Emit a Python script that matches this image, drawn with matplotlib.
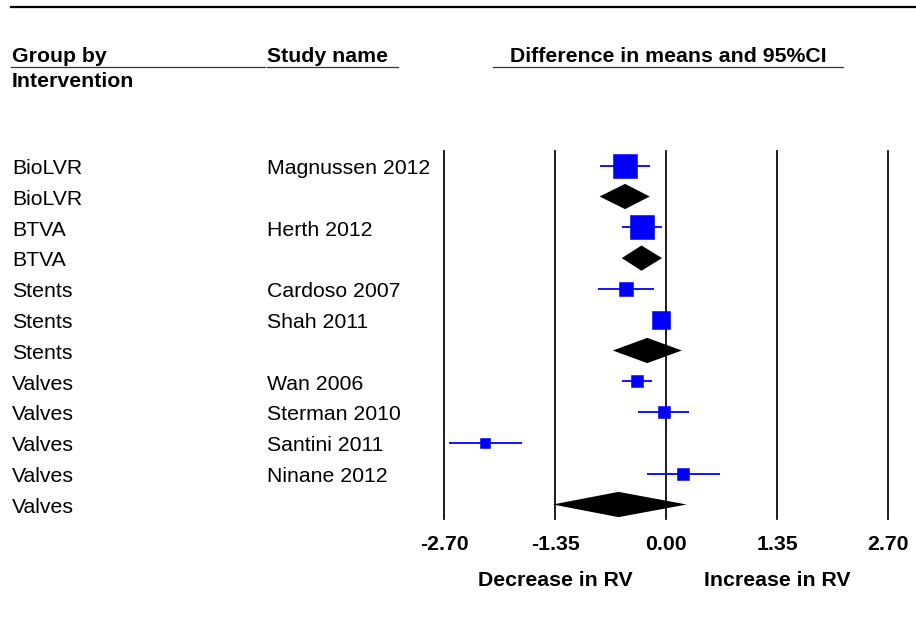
import numpy as np
import matplotlib.pyplot as plt
import matplotlib.transforms as mtransforms
from matplotlib.lines import Line2D

plt.rcParams["font.family"] = ["Liberation Sans", "DejaVu Sans"]

# ==== DATA ====
groups = ["BioLVR", "BioLVR", "BTVA", "BTVA", "Stents", "Stents", "Stents",
          "Valves", "Valves", "Valves", "Valves", "Valves"]
studies = ["Magnussen 2012", "", "Herth 2012", "", "Cardoso 2007", "Shah 2011", "",
           "Wan 2006", "Sterman 2010", "Santini 2011", "Ninane 2012", ""]
is_summary = [False, True, False, True, False, False, True,
              False, False, False, False, True]
diff = [-0.50, -0.50, -0.30, -0.30, -0.49, -0.06, -0.23,
        -0.35, -0.03, -2.20, 0.21, -0.58]
ci_low = [-0.81, -0.81, -0.54, -0.54, -0.83, -0.12, -0.65,
          -0.54, -0.34, -2.64, -0.23, -1.38]
ci_high = [-0.20, -0.20, -0.05, -0.05, -0.15, 0.00, 0.19,
           -0.17, 0.28, -1.75, 0.65, 0.25]
# relative study weights (%), None for subgroup summaries
weight = [25.3, None, 25.9, None, 10.1, 14.6, None,
          6.5, 6.2, 5.4, 5.9, None]

ticks = [-2.70, -1.35, 0.00, 1.35, 2.70]

# ==== FIGURE ====
W, H, DPI = 916, 623, 100
fig = plt.figure(figsize=(W / DPI, H / DPI), dpi=DPI)

px = lambda x: x / W
py = lambda y: 1 - y / H

FS = 15.3
BLUE = "#0000ff"

# forest panel, spans the vertical reference lines
ax_l, ax_r, ax_t, ax_b = 444.3, 888.0, 151.0, 519.0
ax = fig.add_axes([px(ax_l), py(ax_b), px(ax_r - ax_l), (ax_b - ax_t) / H])
row_h = 30.8
n = len(groups)
ax.set_xlim(-2.70, 2.70)
ax.set_ylim((ax_b - ax_t) / row_h - (165.7 - ax_t) / row_h, -(165.7 - ax_t) / row_h)
for s in ax.spines.values():
    s.set_visible(False)
ax.set_yticks([])
ax.set_xticks(ticks)
ax.set_xticklabels([f"{t:.2f}" for t in ticks], fontsize=FS, fontweight="bold")
ax.tick_params(axis="x", length=0, pad=11.5)

for t in ticks:
    ax.axvline(t, color="black", lw=1.25, zorder=1, clip_on=False)

rows = np.arange(n)
for i in rows:
    if is_summary[i]:
        h = 0.41
        xs = [ci_low[i], diff[i], ci_high[i], diff[i]]
        ys = [i, i - h, i, i + h]
        ax.fill(xs, ys, color="black", lw=0, zorder=3)
    else:
        ax.hlines(i, ci_low[i], ci_high[i], color=BLUE, lw=1.3, zorder=2)
        side_px = 4.71 * np.sqrt(weight[i])
        ax.plot(diff[i], i, marker="s", color=BLUE, mec=BLUE, mew=0.4,
                markersize=side_px * 72 / DPI, zorder=3)

# favours labels under the axis
xt = ax.get_xaxis_transform()
ax.text(-1.35, (ax_b - 580.7) / (ax_b - ax_t), "Decrease in RV", transform=xt,
        ha="center", va="center", fontsize=FS, fontweight="bold")
ax.text(1.35, (ax_b - 580.7) / (ax_b - ax_t), "Increase in RV", transform=xt,
        ha="center", va="center", fontsize=FS, fontweight="bold")

# text columns aligned to rows
row_trans = mtransforms.blended_transform_factory(fig.transFigure, ax.transData)
row_trans = mtransforms.offset_copy(row_trans, fig=fig, x=0, y=-8.2 * 72 / DPI,
                                    units="points")
for i in rows:
    fig.text(px(12), i, groups[i], transform=row_trans, fontsize=FS, va="baseline")
    if studies[i]:
        fig.text(px(267), i, studies[i], transform=row_trans, fontsize=FS,
                 va="baseline")

# column headers
fig.text(px(12), py(62.3), "Group by", fontsize=FS, fontweight="bold", va="baseline")
fig.text(px(12), py(87.3), "Intervention", fontsize=FS, fontweight="bold",
         va="baseline")
fig.text(px(267), py(62.3), "Study name", fontsize=FS, fontweight="bold",
         va="baseline")
fig.text(px(510), py(62.3), "Difference in means and 95%CI", fontsize=FS,
         fontweight="bold", va="baseline")

# rules
fig.add_artist(Line2D([px(11), px(916)], [py(7), py(7)], color="black", lw=1.6))
for x0, x1 in [(11, 265), (267, 398), (493, 843)]:
    fig.add_artist(Line2D([px(x0), px(x1)], [py(66.7), py(66.7)],
                          color="#333333", lw=0.9))

fig.savefig("out.png", dpi=DPI, facecolor="white")
